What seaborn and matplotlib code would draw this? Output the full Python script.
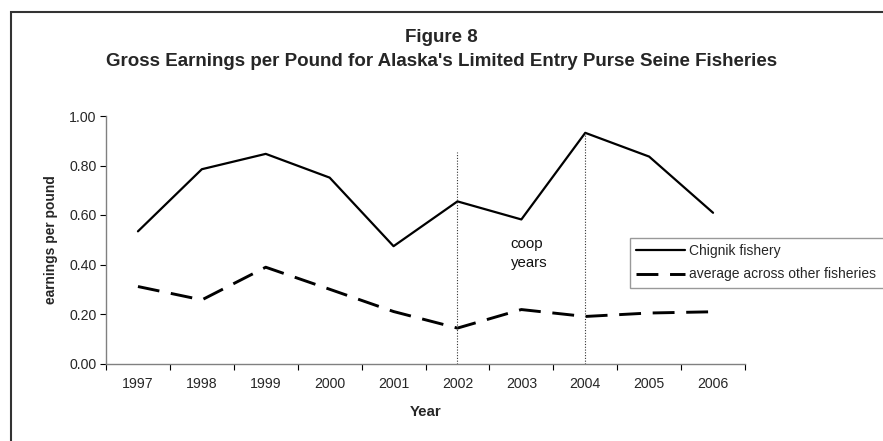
import matplotlib
matplotlib.use("Agg")
import matplotlib.pyplot as plt
import seaborn as sns
import pandas as pd
import numpy as np
from matplotlib.patches import Rectangle

years = ["1997", "1998", "1999", "2000", "2001", "2002", "2003", "2004", "2005", "2006"]
chignik = [0.534, 0.785, 0.847, 0.751, 0.474, 0.655, 0.582, 0.932, 0.836, 0.609]
others = [0.311, 0.257, 0.389, 0.300, 0.210, 0.143, 0.218, 0.190, 0.204, 0.209]
series_names = ["Chignik fishery", "average across other fisheries"]
yticks = [0.0, 0.2, 0.4, 0.6, 0.8, 1.0]
coop_marks = ["2002", "2004"]
coop_tops = [0.855, 0.93]

sns.set_theme(style="white")
plt.rcParams["font.family"] = ["Liberation Sans", "DejaVu Sans"]

fig = plt.figure(figsize=(8.83, 4.41), dpi=100)
ax = fig.add_axes([106 / 883, 1 - 363.5 / 441, (745 - 106) / 883, (363.5 - 116) / 441])

df = pd.DataFrame({
    "Year": years * 2,
    "value": chignik + others,
    "series": [series_names[0]] * len(years) + [series_names[1]] * len(years),
})
xpos = {y: i for i, y in enumerate(years)}
df["x"] = df["Year"].map(xpos)

sns.lineplot(data=df[df.series == series_names[0]], x="x", y="value", ax=ax,
             color="black", lw=1.6, label=series_names[0])
sns.lineplot(data=df[df.series == series_names[1]], x="x", y="value", ax=ax,
             color="black", lw=2.1, label=series_names[1])
ax.lines[1].set_dashes((7.5, 4))

for m, t in zip(coop_marks, coop_tops):
    ax.plot([xpos[m], xpos[m]], [0, t], color="#333333", lw=0.8, ls=(0, (1, 1.5)))

ax.text(5.83, 0.483, "coop", fontsize=10.8, va="center", ha="left", color="#111111")
ax.text(5.83, 0.405, "years", fontsize=10.8, va="center", ha="left", color="#111111")

ax.set_xlim(-0.5, len(years) - 0.5)
ax.set_ylim(0, 1.0)
ax.set_xticks(range(len(years)))
ax.set_xticklabels(years, fontsize=10.2)
ax.set_xticks(np.arange(-0.5, len(years), 1.0), minor=True)
ax.tick_params(axis="x", which="major", length=0, pad=10)
ax.tick_params(axis="x", which="minor", length=4, width=0.8, color="black", direction="out", bottom=True)
ax.set_yticks(yticks)
ax.set_yticklabels([f"{v:.2f}" for v in yticks], fontsize=10.2)
ax.tick_params(axis="y", length=4, width=0.8, color="black", direction="out", left=True, pad=3)

for s in ["top", "right"]:
    ax.spines[s].set_visible(False)
for s in ["left", "bottom"]:
    ax.spines[s].set_color("#808080")
    ax.spines[s].set_linewidth(1.0)

ax.set_xlabel("Year", fontsize=10.8, fontweight="bold", labelpad=10)
ax.set_ylabel("earnings per pound", fontsize=9.9, fontweight="bold", labelpad=8)

leg = ax.legend(loc="upper left", bbox_to_anchor=(630 / 883, 1 - 237.5 / 441, 265 / 883, 0),
                bbox_transform=fig.transFigure, mode="expand", fontsize=10.0, frameon=True,
                fancybox=False, handlelength=3.5, handletextpad=0.3,
                borderpad=0.45, labelspacing=0.7, borderaxespad=0)
leg.get_frame().set_edgecolor("#808080")
leg.get_frame().set_linewidth(1.0)
leg.get_lines()[1].set_dashes((7.5, 4))

fig.text(0.5, 1 - 37 / 441, "Figure 8", ha="center", va="center", fontsize=13.5, fontweight="bold")
fig.text(0.5, 1 - 62 / 441, "Gross Earnings per Pound for Alaska's Limited Entry Purse Seine Fisheries",
         ha="center", va="center", fontsize=13.5, fontweight="bold")

fig.patches.append(Rectangle((11 / 883, -0.1), 1.1, 1.1 - 12 / 441 + 0.0, transform=fig.transFigure,
                             fill=False, edgecolor="#333333", lw=1.5))

fig.savefig("out.png", dpi=100)
